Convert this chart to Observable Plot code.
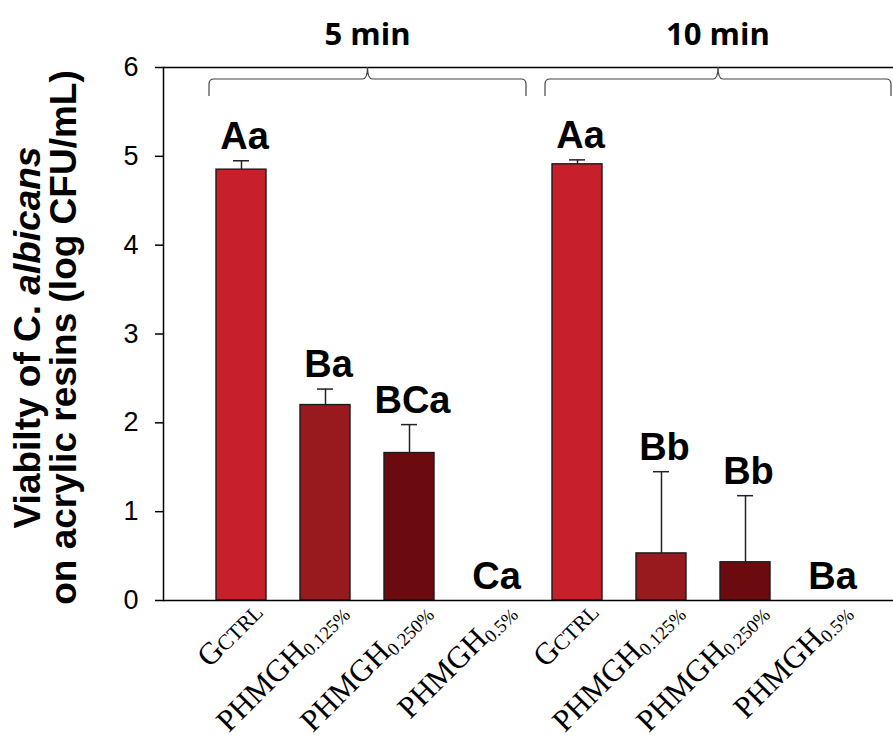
<!DOCTYPE html>
<html><head><meta charset="utf-8">
<script src="https://cdn.jsdelivr.net/npm/d3@7"></script>
<script src="https://cdn.jsdelivr.net/npm/@observablehq/plot@0.6"></script>
<style>
html,body{margin:0;padding:0;background:#fff;}
#chart svg{display:block;}
</style>
</head><body><div id="chart"></div>
<script>
// ---- data ----
const groups = ["5 min", "10 min"];
const treatMain = ["G", "PHMGH", "PHMGH", "PHMGH"];
const treatSub = ["CTRL", "0.125%", "0.250%", "0.5%"];
const means5 = [4.85, 2.20, 1.66, 0];
const errs5 = [0.10, 0.18, 0.32, 0];
const letters5 = ["Aa", "Ba", "BCa", "Ca"];
const means10 = [4.91, 0.53, 0.43, 0];
const errs10 = [0.05, 0.92, 0.75, 0];
const letters10 = ["Aa", "Bb", "Bb", "Ba"];
const colors = ["#c8202a", "#981a1f", "#6b0b10", "#4a0508"];
const yTicks = [0, 1, 2, 3, 4, 5, 6];
const yTitle1 = ["Viabilty of C. ", "albicans"];
const yTitle2 = "on acrylic resins (log CFU/mL)";

// ---- table ----
const series = [[means5, errs5, letters5], [means10, errs10, letters10]];
const rows = [];
groups.forEach((g, gi) => {
  treatMain.forEach((m, ti) => {
    const [means, errs, letters] = series[gi];
    rows.push({id: g + "#" + ti, group: g, treat: ti, main: m, sub: treatSub[ti],
      mean: means[ti], err: errs[ti], letter: letters[ti]});
  });
});
const ids = rows.map(d => d.id);
const withErr = rows.filter(d => d.err > 0);
const AX = "#000";

const plot = Plot.plot({
  width: 893, height: 744,
  marginLeft: 163, marginRight: 0, marginTop: 67, marginBottom: 144,
  style: {fontFamily: "'Liberation Sans', Arial, sans-serif", background: "#fff", overflow: "visible", color: "#000"},
  x: {type: "band", domain: ids, range: [197, 873], paddingInner: 0.4, paddingOuter: 0.2, axis: null},
  y: {domain: [0, 6], axis: null},
  color: {type: "ordinal", domain: [0, 1, 2, 3], range: colors},
  marks: [
    Plot.axisY(yTicks, {tickSize: 8, tickPadding: 17, fontSize: 27, stroke: AX, strokeWidth: 1.5,
      tickFormat: d => String(d), label: null}),
    Plot.barY(rows.filter(d => d.mean > 0), {x: "id", y: "mean", fill: "treat", stroke: "#1a1a1a", strokeWidth: 1.4}),
    Plot.ruleX(withErr, {x: "id", y1: "mean", y2: d => d.mean + d.err, stroke: "#222", strokeWidth: 1.5}),
    Plot.tickY(withErr, {x: "id", y: d => d.mean + d.err, insetLeft: 17, insetRight: 17, stroke: "#222", strokeWidth: 1.5}),
    Plot.ruleY([0, 6], {stroke: AX, strokeWidth: 1.5}),
    Plot.frame({anchor: "left", stroke: AX, strokeWidth: 1.5}),
    Plot.text(rows, {x: "id", y: d => d.mean + d.err, text: "letter", dy: -12, dx: 3,
      lineAnchor: "bottom", fontSize: 38, fontWeight: "bold", fill: "#000"}),
    Plot.text(rows, {x: "id", frameAnchor: "bottom", text: d => d.main + "|" + d.sub,
      rotate: -45, textAnchor: "end", lineAnchor: "bottom", dx: 23, dy: 13,
      fontSize: 31, fontFamily: "'Liberation Serif', 'Times New Roman', serif", fill: "#000"})
  ]
});

const svg = d3.select(plot);
// rich x labels: main text + small caps / subscript
svg.selectAll("text").each(function () {
  const t = this.textContent;
  if (!t.includes("|")) return;
  const [m, s] = t.split("|");
  const el = d3.select(this);
  el.text(null);
  el.append("tspan").text(m);
  if (s === "CTRL") el.append("tspan").attr("font-size", "0.7em").text(s);
  else el.append("tspan").attr("font-size", "0.6em").attr("dy", "0.2em").text(s);
});

// braces and group labels, positioned from the plot's own scales
const xs = plot.scale("x"), ys = plot.scale("y");
const bw = xs.bandwidth;
const yTop = ys.apply(6);
const ann = svg.append("g").attr("fill", "none").attr("stroke", "#444").attr("stroke-width", 1.2);
groups.forEach((g, gi) => {
  const gIds = ids.filter(id => id.startsWith(g + "#"));
  const L = xs.apply(gIds[0]) - 7;
  const R = gi === groups.length - 1 ? 893 - 2 : xs.apply(gIds[gIds.length - 1]) + bw + 8;
  const M = (L + R) / 2;
  const yh = yTop + 12, yb = yTop + 29;
  const r = 5;
  const p = `M${L},${yb} L${L},${yh + r} Q${L},${yh} ${L + r},${yh} L${M - r},${yh} Q${M},${yh} ${M},${yTop}` +
    ` Q${M},${yh} ${M + r},${yh} L${R - r},${yh} Q${R},${yh} ${R},${yh + r} L${R},${yb}`;
  ann.append("path").attr("d", p);
  svg.append("text").attr("x", M).attr("y", 45).attr("text-anchor", "middle")
    .attr("font-family", "'Open Sans', sans-serif").attr("font-weight", "bold").attr("font-size", 31)
    .attr("fill", "#000").text(g);
});

// y axis title (two centred lines, italic species name)
const yMid = (ys.apply(0) + ys.apply(6)) / 2 + 4;
const t1 = svg.append("text").attr("transform", `translate(40,${yMid}) rotate(-90)`).attr("text-anchor", "middle")
  .attr("font-size", 37).attr("font-weight", "bold").attr("fill", "#000");
t1.append("tspan").text(yTitle1[0]);
t1.append("tspan").attr("font-style", "italic").text(yTitle1[1]);
svg.append("text").attr("transform", `translate(76,${yMid}) rotate(-90)`).attr("text-anchor", "middle")
  .attr("font-size", 37).attr("font-weight", "bold").attr("fill", "#000").text(yTitle2);

document.getElementById("chart").appendChild(plot);
</script>
</body></html>
